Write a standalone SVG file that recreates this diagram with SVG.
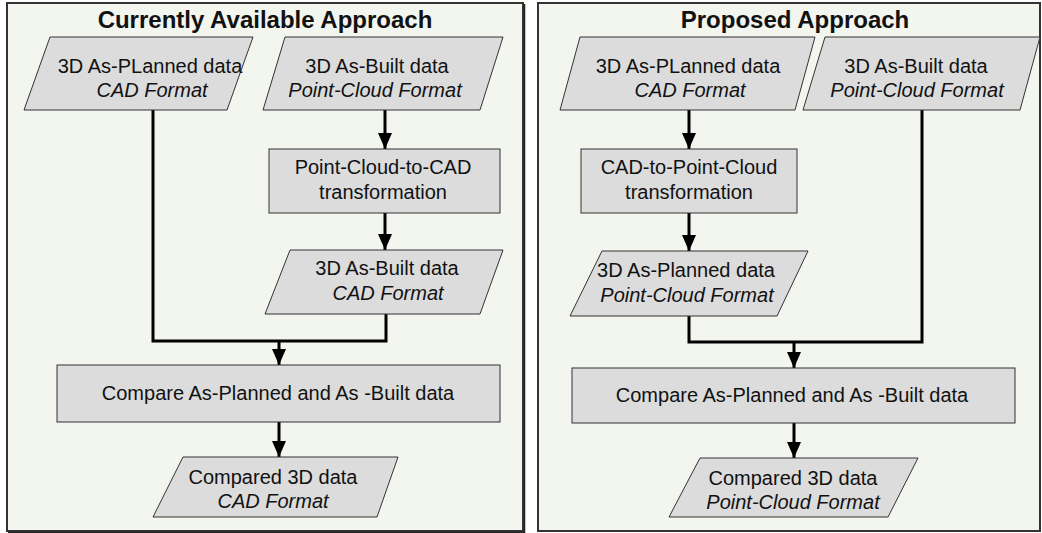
<svg xmlns="http://www.w3.org/2000/svg" width="1042" height="533" viewBox="0 0 1042 533">
<defs>
<style>
.panel{fill:#f3f5ef;stroke:#333;stroke-width:2}
.shadow{fill:none;stroke:#222;stroke-width:1.5}
.node{fill:#dcdcdc;stroke:#333;stroke-width:1}
.title{font-family:"Liberation Sans",Arial,sans-serif;font-size:24px;font-weight:bold;fill:#111;text-anchor:middle}
.t{font-family:"Liberation Sans",Arial,sans-serif;font-size:20px;fill:#111;text-anchor:middle}
.i{font-style:italic}
.conn{fill:none;stroke:#000;stroke-width:3}
</style>
<marker id="ah" viewBox="0 0 16 14" refX="16" refY="7" markerWidth="16" markerHeight="14" markerUnits="userSpaceOnUse" orient="auto">
<path d="M0,0 L16,7 L0,14 z" fill="#000"/>
</marker>
</defs>
<rect width="1042" height="533" fill="#fff"/>
<g id="panel-left">
<rect class="panel" x="7" y="3" width="516" height="528"/>
<polyline class="shadow" points="524.5,4 524.5,532.5 8,532.5"/>
<text class="title" x="265" y="28">Currently Available Approach</text>
</g>
<g id="panel-right">
<rect class="panel" x="538" y="3" width="502" height="528"/>
<text class="title" x="795" y="28">Proposed Approach</text>
</g>
<g id="connectors">
<line class="conn" x1="385" y1="110" x2="385" y2="149" marker-end="url(#ah)"/>
<line class="conn" x1="385" y1="213" x2="385" y2="250" marker-end="url(#ah)"/>
<polyline class="conn" points="153,110 153,341 386,341 386,314"/>
<line class="conn" x1="279" y1="341" x2="279" y2="365" marker-end="url(#ah)"/>
<line class="conn" x1="279" y1="422" x2="279" y2="457" marker-end="url(#ah)"/>
<line class="conn" x1="689" y1="110" x2="689" y2="149" marker-end="url(#ah)"/>
<line class="conn" x1="689" y1="213" x2="689" y2="251" marker-end="url(#ah)"/>
<polyline class="conn" points="689,316 689,342 922,342 922,110"/>
<line class="conn" x1="794" y1="342" x2="794" y2="368" marker-end="url(#ah)"/>
<line class="conn" x1="794" y1="423" x2="794" y2="458" marker-end="url(#ah)"/>
</g>
<g id="L-planned-cad">
<polygon class="node" points="50,37 253,37 227,110 24,110"/>
<text class="t" x="150" y="73">3D As-PLanned data</text>
<text class="t i" x="152" y="97">CAD Format</text>
</g>
<g id="L-built-pc">
<polygon class="node" points="285,37 503,37 480,110 263,110"/>
<text class="t" x="377" y="73">3D As-Built data</text>
<text class="t i" x="375" y="97">Point-Cloud Format</text>
</g>
<g id="L-transform">
<rect class="node" x="269" y="149" width="231" height="64"/>
<text class="t" x="383" y="174">Point-Cloud-to-CAD</text>
<text class="t" x="383" y="199">transformation</text>
</g>
<g id="L-built-cad">
<polygon class="node" points="290,250 503,250 480,314 265,314"/>
<text class="t" x="387" y="275">3D As-Built data</text>
<text class="t i" x="388" y="300">CAD Format</text>
</g>
<g id="L-compare">
<rect class="node" x="57" y="365" width="443" height="57"/>
<text class="t" x="278" y="400">Compare As-Planned and As -Built data</text>
</g>
<g id="L-result">
<polygon class="node" points="183,457 398,457 377,517 153,517"/>
<text class="t" x="273" y="484">Compared 3D data</text>
<text class="t i" x="273" y="508">CAD Format</text>
</g>
<g id="R-planned-cad">
<polygon class="node" points="580,37 815,37 795,110 560,110"/>
<text class="t" x="688" y="73">3D As-PLanned data</text>
<text class="t i" x="690" y="97">CAD Format</text>
</g>
<g id="R-built-pc">
<polygon class="node" points="825,37 1040,37 1020,110 803,110"/>
<text class="t" x="916" y="73">3D As-Built data</text>
<text class="t i" x="917" y="97">Point-Cloud Format</text>
</g>
<g id="R-transform">
<rect class="node" x="581" y="149" width="216" height="64"/>
<text class="t" x="689" y="174">CAD-to-Point-Cloud</text>
<text class="t" x="689" y="199">transformation</text>
</g>
<g id="R-planned-pc">
<polygon class="node" points="602,251 808,251 777,316 570,316"/>
<text class="t" x="686" y="277">3D As-Planned data</text>
<text class="t i" x="687" y="302">Point-Cloud Format</text>
</g>
<g id="R-compare">
<rect class="node" x="572" y="368" width="443" height="55"/>
<text class="t" x="792" y="402">Compare As-Planned and As -Built data</text>
</g>
<g id="R-result">
<polygon class="node" points="700,458 918,458 888,517 669,517"/>
<text class="t" x="793" y="485">Compared 3D data</text>
<text class="t i" x="793" y="509">Point-Cloud Format</text>
</g>
</svg>
